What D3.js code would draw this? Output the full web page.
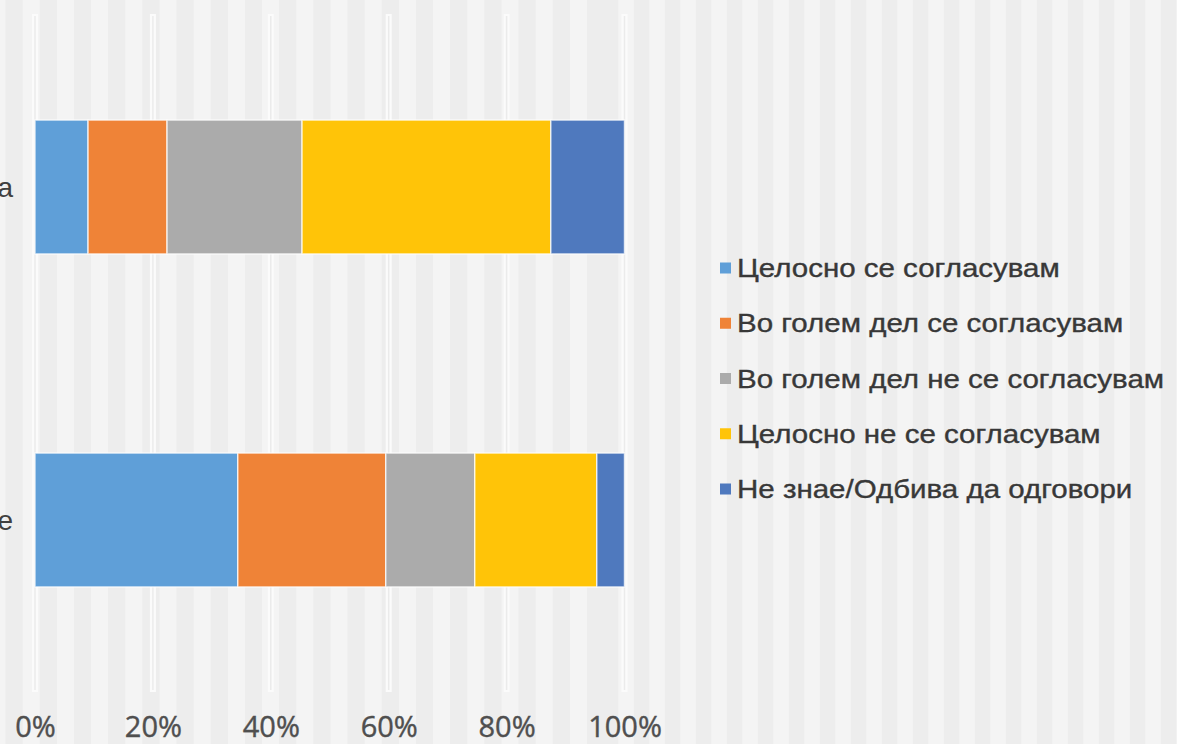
<!DOCTYPE html>
<html>
<head>
<meta charset="utf-8">
<script src="https://cdn.jsdelivr.net/npm/d3@7"></script>
<style>
  html, body { margin: 0; padding: 0; background: #f1f1f1; overflow: hidden; }
  svg { display: block; }
</style>
</head>
<body>
<svg class="chart"></svg>
<script>
// data
const categories = ['Во Македонија', 'Во регионот ситуацијата е'];
const seriesNames = [
	'Целосно се согласувам',
	'Во голем дел се согласувам',
	'Во голем дел не се согласувам',
	'Целосно не се согласувам',
	'Не знае/Одбива да одговори'
];
const fullyAgree = [9.0, 34.4];
const mostlyAgree = [13.4, 25.1];
const mostlyDisagree = [22.9, 15.1];
const fullyDisagree = [42.2, 20.7];
const dontKnow = [12.5, 4.7];
const tickValues = [0, 20, 40, 60, 80, 100];

const colors = ['#5f9fd8', '#ef8337', '#ababab', '#ffc408', '#4f79be'];

const width = 1177;
const height = 744;

const svg = d3.select('svg.chart')
	.attr('width', width)
	.attr('height', height);

// striped background
const stripesLeft = d3.range(-11.5, 600, 34.2);
const stripesRight = d3.range(618.3, width, 31);
svg.append('rect')
	.attr('width', width)
	.attr('height', height)
	.attr('fill', '#ededed');
svg.selectAll('rect.stripe-l')
	.data(stripesLeft).enter()
	.append('rect')
	.attr('class', 'stripe-l')
	.attr('x', d => d)
	.attr('y', 0)
	.attr('width', 17)
	.attr('height', height)
	.attr('fill', '#f4f4f4');
svg.selectAll('rect.stripe-r')
	.data(stripesRight).enter()
	.append('rect')
	.attr('class', 'stripe-r')
	.attr('x', d => d)
	.attr('y', 0)
	.attr('width', 15.5)
	.attr('height', height)
	.attr('fill', '#f4f4f4');

const rows = categories.map((c, i) => ({
	category: c,
	s0: fullyAgree[i],
	s1: mostlyAgree[i],
	s2: mostlyDisagree[i],
	s3: fullyDisagree[i],
	s4: dontKnow[i]
}));
const keys = ['s0', 's1', 's2', 's3', 's4'];
const stacked = d3.stack().keys(keys)(rows);

const x = d3.scaleLinear()
	.domain([0, 100])
	.range([35, 624.5]);

const y = d3.scaleBand()
	.domain(categories)
	.range([20.5, 686.5])
	.paddingInner(0.598)
	.paddingOuter(0.299);

// gridlines
const grid = svg.append('g').attr('class', 'grid');
grid.selectAll('rect')
	.data(tickValues).enter()
	.append('rect')
	.attr('x', d => x(d) - 3)
	.attr('y', 14)
	.attr('width', 6)
	.attr('height', 678)
	.attr('fill', '#fbfbfb');
grid.selectAll('line')
	.data(tickValues).enter()
	.append('line')
	.attr('x1', d => x(d))
	.attr('x2', d => x(d))
	.attr('y1', 16)
	.attr('y2', 690)
	.attr('stroke', '#ebebeb')
	.attr('stroke-width', 1.5);

// bars
const bars = svg.append('g').attr('class', 'bars');
bars.selectAll('g')
	.data(stacked).enter()
	.append('g')
	.attr('fill', (d, i) => colors[i])
	.selectAll('rect')
	.data(d => d).enter()
	.append('rect')
	.attr('x', d => x(d[0]))
	.attr('y', d => y(d.data.category))
	.attr('width', d => x(d[1]) - x(d[0]))
	.attr('height', y.bandwidth())
	.attr('stroke', '#ffffff')
	.attr('stroke-opacity', 0.7)
	.attr('stroke-width', 1.5);

// x axis labels
const xAxis = d3.axisBottom(x)
	.tickValues(tickValues)
	.tickFormat(d => d + '%')
	.tickSize(0)
	.tickPadding(0);
const ax = svg.append('g')
	.attr('transform', 'translate(0, 716)')
	.call(xAxis);
ax.select('.domain').remove();
ax.selectAll('text')
	.attr('dy', '0.71em')
	.attr('fill', '#4f4f4f')
	.attr('stroke', '#4f4f4f')
	.attr('stroke-width', 0.4)
	.style('font-family', '"Open Sans", sans-serif')
	.style('font-size', '29px');

// category labels (cut off by the frame)
svg.append('g').selectAll('text')
	.data(categories).enter()
	.append('text')
	.attr('x', 13)
	.attr('y', d => y(d) + y.bandwidth() / 2)
	.attr('dy', '0.35em')
	.attr('text-anchor', 'end')
	.attr('fill', '#404040')
	.style('font-family', '"Liberation Sans", Arial, sans-serif')
	.style('font-size', '28px')
	.text(d => d);

// legend
const legend = svg.append('g')
	.attr('class', 'legend')
	.attr('transform', 'translate(720, 268)');
const item = legend.selectAll('g')
	.data(seriesNames).enter()
	.append('g')
	.attr('transform', (d, i) => `translate(0, ${i * 55.25})`);
item.append('rect')
	.attr('x', 0)
	.attr('y', -5.5)
	.attr('width', 11)
	.attr('height', 11)
	.attr('fill', (d, i) => colors[i]);
item.append('text')
	.attr('transform', 'translate(17, 0) scale(1.18, 1)')
	.attr('dy', '0.36em')
	.attr('fill', '#383838')
	.attr('stroke', '#383838')
	.attr('stroke-width', 0.35)
	.style('font-family', '"Liberation Sans", Arial, sans-serif')
	.style('font-size', '25px')
	.text(d => d);
</script>
</body>
</html>
